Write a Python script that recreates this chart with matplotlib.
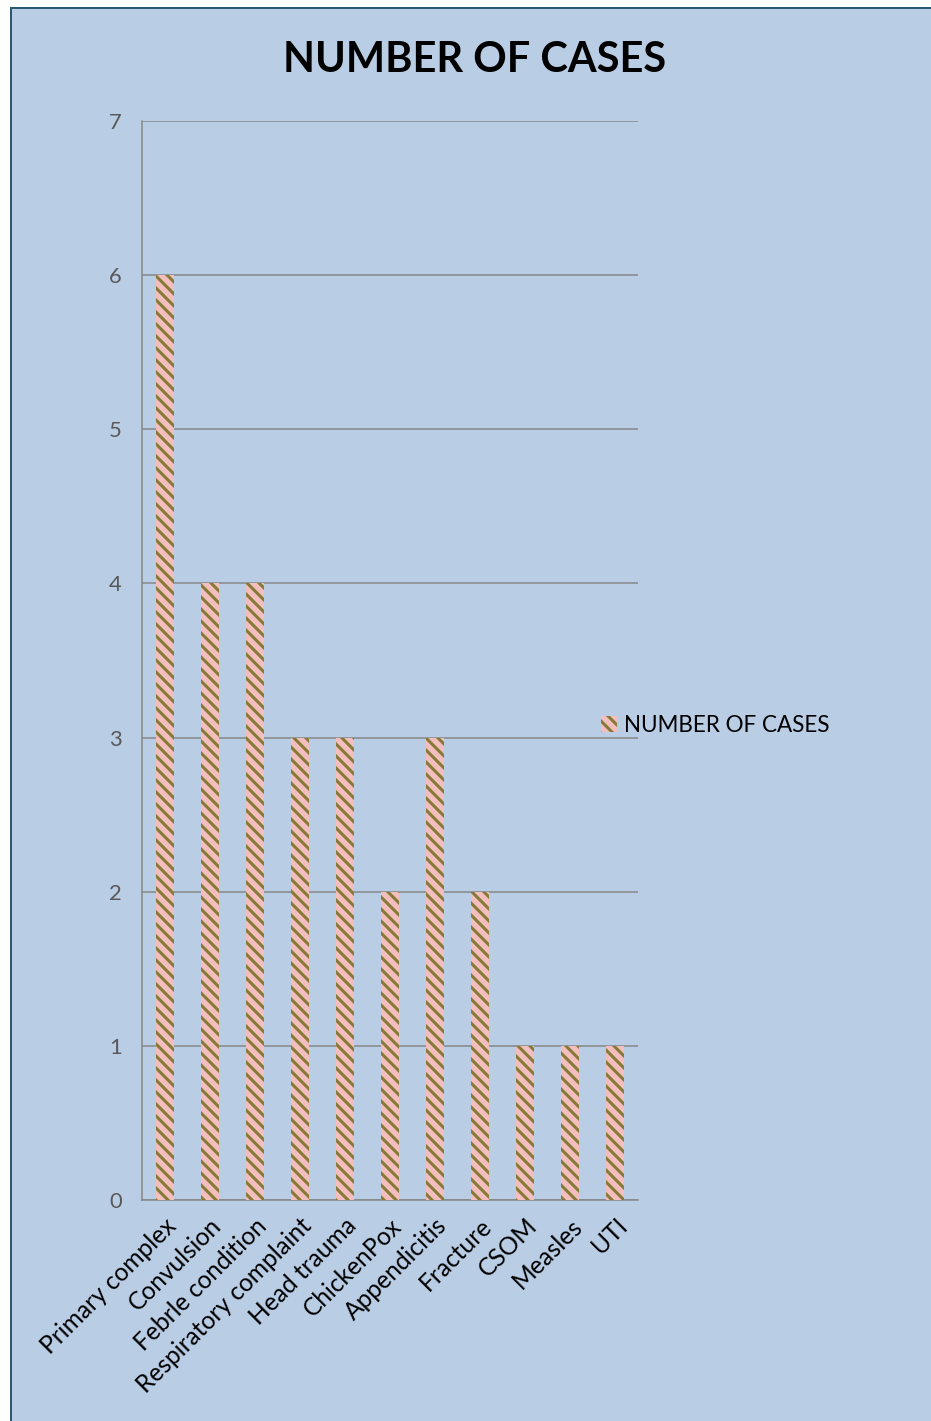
import matplotlib
matplotlib.use('Agg')
import matplotlib.pyplot as plt
from matplotlib.patches import Rectangle, Patch

categories = ['Primary complex', 'Convulsion', 'Febrle condition', 'Respiratory complaint',
              'Head trauma', 'ChickenPox', 'Appendicitis', 'Fracture', 'CSOM', 'Measles', 'UTI']
cases = [6, 4, 4, 3, 3, 2, 3, 2, 1, 1, 1]
series_name = 'NUMBER OF CASES'

# dpi 72 so that the hatch spacing (12 px) matches the reference stripes
DPI = 72
plt.rcParams['font.family'] = ['Lato', 'DejaVu Sans']
plt.rcParams['hatch.linewidth'] = 3

bg = '#B9CDE5'
fill = '#F4BEBE'
stripe = '#857A35'
grid = '#868686'

fig = plt.figure(figsize=(931 / DPI, 1421 / DPI), dpi=DPI, facecolor='white')
fig.patches.append(Rectangle((11 / 931, -0.1), 1.2, (1421 - 8) / 1421 + 0.1,
                             transform=fig.transFigure, facecolor=bg,
                             edgecolor='#2B5A70', linewidth=2, zorder=-10))

ax = fig.add_axes([142 / 931, 1 - 1200 / 1421, (638 - 142) / 931, (1200 - 121) / 1421])
ax.set_facecolor('none')

x = range(len(categories))
ax.bar(x, cases, width=0.4, color=fill, edgecolor=stripe, linewidth=0,
       hatch='\\\\', zorder=3)

ax.set_xlim(-0.5, len(categories) - 0.5)
ax.set_ylim(0, 7)
ax.set_yticks(range(8))
ax.yaxis.grid(True, color=grid, linewidth=1.5)
ax.set_axisbelow(True)
for s in ['top', 'right']:
    ax.spines[s].set_visible(False)
ax.spines['left'].set_color(grid)
ax.spines['bottom'].set_color(grid)
ax.spines['left'].set_linewidth(1.5)
ax.spines['bottom'].set_linewidth(1.5)
ax.tick_params(axis='both', length=0)
ax.tick_params(axis='y', pad=20, labelsize=22, labelcolor='#595959')
ax.set_xticks(list(x))
ax.set_xticklabels(categories, rotation=45, ha='right', rotation_mode='anchor',
                   fontsize=24.5, color='black')
ax.tick_params(axis='x', pad=14)

fig.text(475 / 931, 1 - 60 / 1421, 'NUMBER OF CASES', ha='center', va='center',
         fontsize=41.5, fontweight='bold')

handle = Patch(facecolor=fill, edgecolor=stripe, linewidth=0, hatch='\\\\')
fig.legend([handle], [series_name], loc='center left',
           bbox_to_anchor=(590 / 931, 1 - 725 / 1421), frameon=False, borderpad=0,
           fontsize=22.5, handlelength=0.7, handleheight=0.7, handletextpad=0.3)

fig.savefig('out.png', dpi=DPI, facecolor='white')
